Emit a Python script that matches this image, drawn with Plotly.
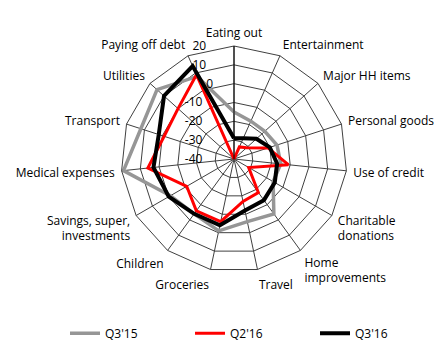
import plotly.graph_objects as go

categories = ["Eating out", "Entertainment", "Major HH items", "Personal goods",
              "Use of credit", "Charitable<br>donations", "Home<br>improvements", "Travel",
              "Groceries", "Children", "Savings, super,<br>investments", "Medical expenses",
              "Transport", "Utilities", "Paying off debt"]

q3_15 = [-15, -18, -18, -16, -15, -16, -4, -6, -1, -4, -1, 19, 12, 15, 8]
q2_16 = [-40, -33, -31, -21, -11, -31, -18, -17, -6, -6, -11, 6, -1, 0, 9]
q3_16 = [-29, -28, -24, -20, -17, -15, -13, -12, -4, -4, 0, 3, 2, 10, 14]

radial_ticks = [-40, -30, -20, -10, 0, 10, 20]
# labels sit left of the vertical axis: pad with an invisible copy so the visible part shifts left
pad = "\u00a0" * 3
radial_text = [f"{v}<span style='color:rgba(0,0,0,0)'>{v}{pad}</span>" for v in radial_ticks]

series = [("Q3'15", q3_15, "#969696", 3.5),
          ("Q2'16", q2_16, "#ff0000", 3),
          ("Q3'16", q3_16, "#000000", 4)]

fig = go.Figure()
for name, vals, color, w in series:
    fig.add_trace(go.Scatterpolar(
        r=vals + vals[:1], theta=categories + categories[:1], mode="lines",
        name=name, line=dict(color=color, width=w)))

W, H = 443, 349
cx, cy, R = 234, 159, 113
fig.update_layout(
    width=W, height=H,
    margin=dict(l=0, r=0, t=0, b=0),
    paper_bgcolor="white", plot_bgcolor="white",
    font=dict(family="Open Sans", size=12, color="#000000"),
    polar=dict(
        domain=dict(x=[(cx - R) / W, (cx + R) / W], y=[(H - cy - R) / H, (H - cy + R) / H]),
        bgcolor="white",
        gridshape="linear",
        angularaxis=dict(direction="clockwise", rotation=90, ticks="outside", ticklen=4,
                         tickcolor="rgba(0,0,0,0)",
                         showline=True, linecolor="#404040", linewidth=1,
                         gridcolor="#404040", gridwidth=1,
                         tickfont=dict(size=12, color="#000000")),
        radialaxis=dict(range=[-40, 20], tickvals=radial_ticks, ticktext=radial_text,
                        angle=90, tickangle=90,
                        side="counterclockwise", showline=True, linecolor="#000000",
                        linewidth=1, gridcolor="#404040", gridwidth=1, ticks="",
                        tickfont=dict(size=12, color="#000000")),
    ),
    legend=dict(orientation="h", x=0.57, xanchor="center", y=0.045, yanchor="middle",
                font=dict(size=12), entrywidth=80, entrywidthmode="pixels"),
    showlegend=True,
)

fig.write_html("out.html")
